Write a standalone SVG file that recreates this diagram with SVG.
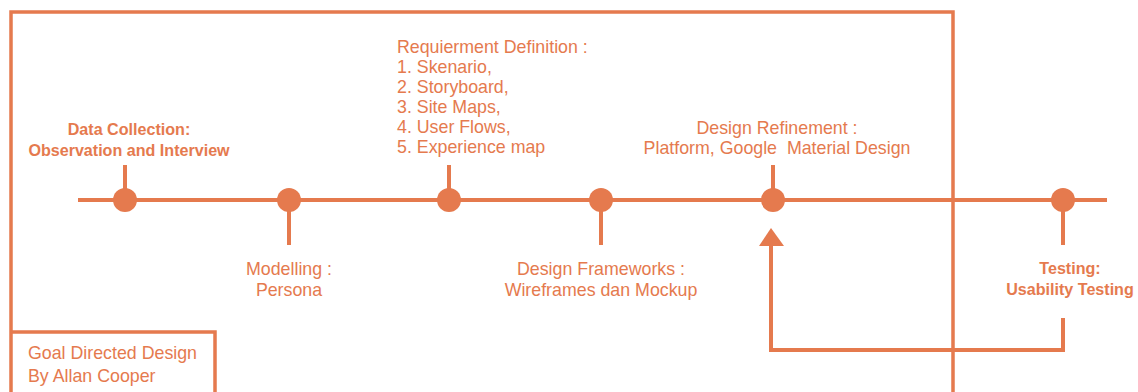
<svg xmlns="http://www.w3.org/2000/svg" width="1138" height="392" viewBox="0 0 1138 392">
<style>
.ln{stroke:#E57A4E;stroke-width:4;fill:none}
.fr{stroke:#E57A4E;stroke-width:3.5;fill:none}
.dot{fill:#E57A4E}
text{font-family:"Liberation Sans",Arial,sans-serif;fill:#E57A4E;font-size:17.8px}
.b{font-weight:bold;font-size:16.1px}
.m{text-anchor:middle}
</style>
<rect width="1138" height="392" fill="#fff"/>
<g id="frame">
<path class="fr" d="M11,395 V12 H953 V395"/>
</g>
<g id="legend">
<path class="fr" d="M11,332 H215 V395"/>
<text x="28" y="359">Goal Directed Design</text>
<text x="28" y="382">By Allan Cooper</text>
</g>
<g id="connectors">
<line class="ln" x1="78" y1="200" x2="1107" y2="200"/>
<path class="ln" d="M1063,318 V350 H771 V244"/>
<polygon class="dot" points="771,228 759,246 784,246"/>
</g>
<g id="n1">
<line class="ln" x1="125" y1="165" x2="125" y2="195"/>
<circle class="dot" cx="125" cy="200" r="12"/>
<text class="b m" x="129" y="135">Data Collection:</text>
<text class="b m" x="129" y="156">Observation and Interview</text>
</g>
<g id="n2">
<line class="ln" x1="289" y1="205" x2="289" y2="245"/>
<circle class="dot" cx="289" cy="200" r="12"/>
<text class="m" x="289" y="275">Modelling :</text>
<text class="m" x="289" y="296">Persona</text>
</g>
<g id="n3">
<line class="ln" x1="449" y1="165" x2="449" y2="195"/>
<circle class="dot" cx="449" cy="200" r="12"/>
<text x="397" y="53">Requierment Definition :</text>
<text x="397" y="73">1. Skenario,</text>
<text x="397" y="93">2. Storyboard,</text>
<text x="397" y="113">3. Site Maps,</text>
<text x="397" y="133">4. User Flows,</text>
<text x="397" y="153">5. Experience map</text>
</g>
<g id="n4">
<line class="ln" x1="601" y1="205" x2="601" y2="245"/>
<circle class="dot" cx="601" cy="200" r="12"/>
<text class="m" x="601" y="275">Design Frameworks :</text>
<text class="m" x="601" y="296">Wireframes dan Mockup</text>
</g>
<g id="n5">
<line class="ln" x1="773" y1="165" x2="773" y2="195"/>
<circle class="dot" cx="773" cy="200" r="12"/>
<text class="m" x="777" y="134">Design Refinement :</text>
<text class="m" x="777" y="154" xml:space="preserve">Platform, Google  Material Design</text>
</g>
<g id="n6">
<line class="ln" x1="1063" y1="205" x2="1063" y2="245"/>
<circle class="dot" cx="1063" cy="200" r="12"/>
<text class="b m" x="1070" y="274">Testing:</text>
<text class="b m" x="1070" y="295">Usability Testing</text>
</g>
</svg>
